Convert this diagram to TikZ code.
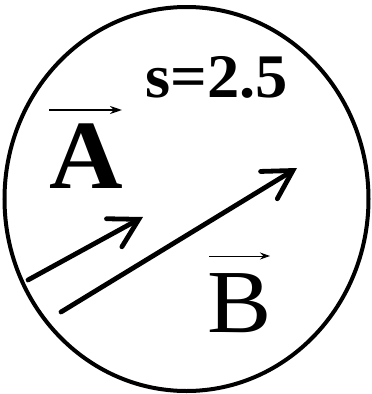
\documentclass[tikz,border=0pt]{standalone}
\usepackage{fontspec}
\setmainfont{Liberation Serif}
\usetikzlibrary{arrows.meta}
\begin{document}
\begin{tikzpicture}[x=1pt,y=-1pt,
  vec/.style={line width=4.8pt, line cap=round,
    -{Straight Barb[length=28pt,width=32pt,line cap=round]}},
  thinvec/.style={-{Stealth[length=12pt,width=8pt]}},
  lbl/.style={inner sep=0pt, anchor=base}]
\useasboundingbox (0,0) rectangle (372,394);
\fill[white] (0,0) rectangle (372,394);
\draw[line width=4pt] (186.5,199) ellipse [x radius=182, y radius=192];
\node[lbl, font=\fontsize{62}{62}\selectfont\bfseries, xscale=1.04] (s) at (217,97) {s=2.5};
\node[lbl, font=\fontsize{98}{98}\selectfont\bfseries, xscale=1.04] (A) at (86,188) {A};
\node[lbl, font=\fontsize{90}{90}\selectfont, xscale=1.07] (B) at (239.5,332) {B};
\coordinate (a1) at (49,110);
\coordinate (a2) at (122,110);
\draw[line width=2pt, thinvec] (a1) -- (a2);
\coordinate (b1) at (209,256);
\coordinate (b2) at (270,256);
\draw[line width=1pt, -{Stealth[length=10pt,width=7pt]}] (b1) -- (b2);
\coordinate (p1) at (28,280);
\coordinate (p2) at (143,217);
\draw[vec] (p1) -- (p2);
\coordinate (q1) at (61,312);
\coordinate (q2) at (297,168);
\draw[vec] (q1) -- (q2);
\end{tikzpicture}
\end{document}
